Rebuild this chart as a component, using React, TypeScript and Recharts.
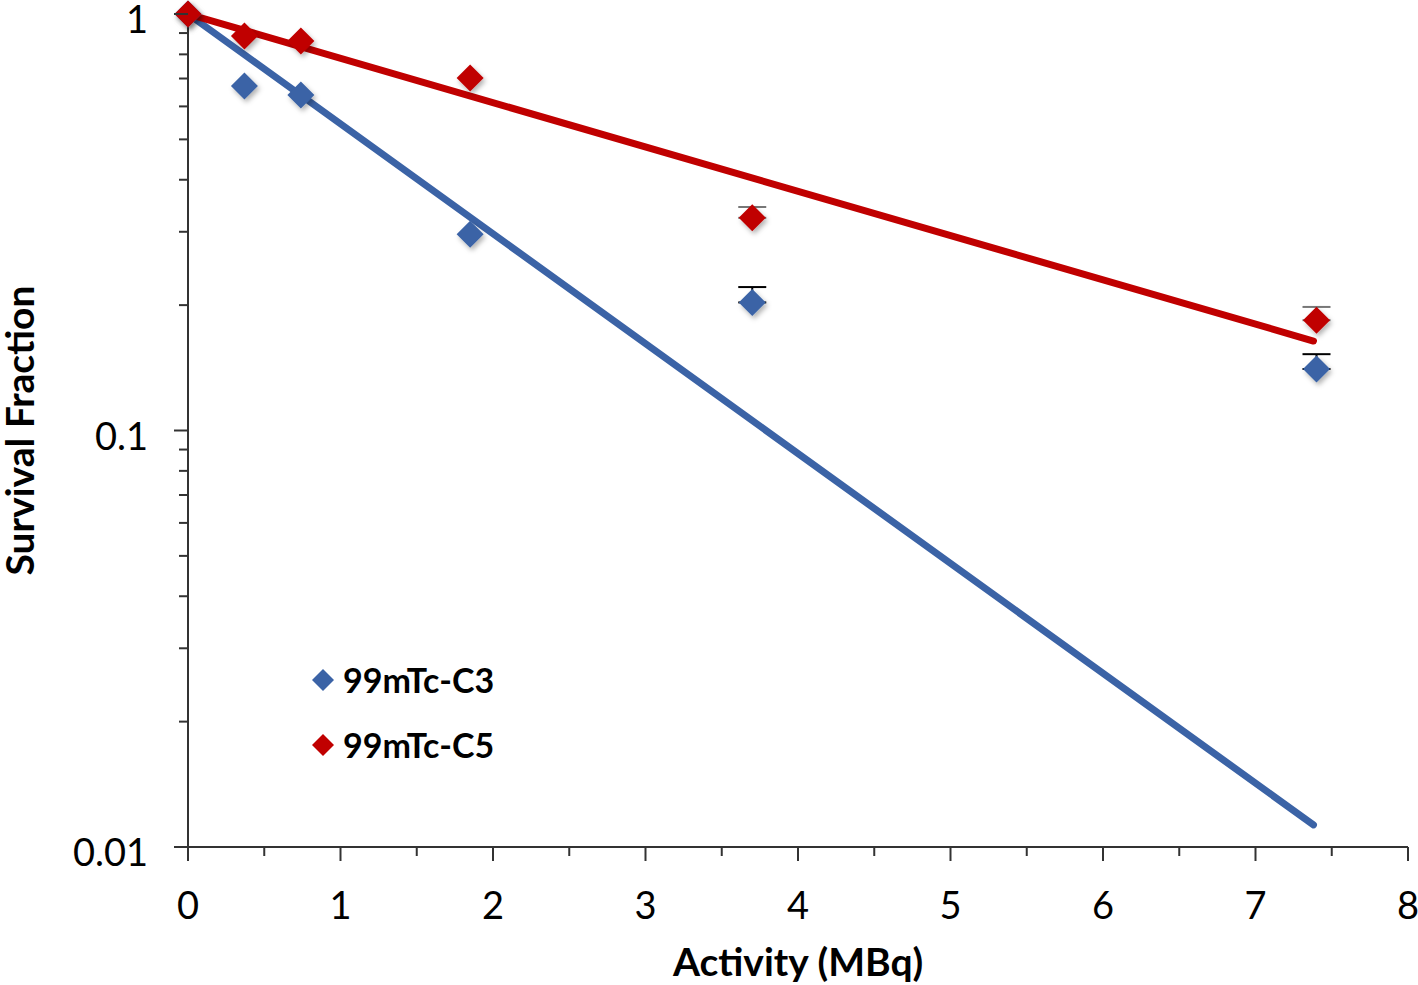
import React from 'react';
import { ScatterChart, Scatter, XAxis, YAxis, ErrorBar, Legend, Label } from 'recharts';

// Activity (MBq) of each measurement
const activity = [0, 0.37, 0.74, 1.85, 3.7, 7.4];
// survival fraction + upper error (null = no bar)
const c3Survival = [1.0, 0.672, 0.639, 0.296, 0.203, 0.1405];
const c3ErrorUp = [null, null, null, null, 0.018, 0.012];
const c5Survival = [1.0, 0.885, 0.861, 0.702, 0.324, 0.184];
const c5ErrorUp = [null, null, null, null, 0.02, 0.014];

// exponential trendlines (straight on log axis), end points
const fitActivity = [0, 7.38];
const c3Fit = [1.0, 0.0113];
const c5Fit = [1.0, 0.164];

const xTicks = [0, 0.5, 1, 1.5, 2, 2.5, 3, 3.5, 4, 4.5, 5, 5.5, 6, 6.5, 7, 7.5, 8];
const yTicks = [
  0.01, 0.02, 0.03, 0.04, 0.05, 0.06, 0.07, 0.08, 0.09,
  0.1, 0.2, 0.3, 0.4, 0.5, 0.6, 0.7, 0.8, 0.9, 1,
];
const yMajor = [0.01, 0.1, 1];

const BLUE = '#3B63A6';
const RED = '#C00000';
const AXIS = '#333333';
const FONT = 'Lato, "Open Sans", sans-serif';

const pts = (ys: number[], errs: (number | null)[]) =>
  activity.map((x, i) => ({ x, y: ys[i], err: errs[i] == null ? undefined : [0, errs[i]] }));
const fit = (ys: number[]) => fitActivity.map((x, i) => ({ x, y: ys[i] }));

const c3Data = pts(c3Survival, c3ErrorUp);
const c5Data = pts(c5Survival, c5ErrorUp);

const Diamond = (props: any) => {
  const { cx, cy, fill } = props;
  const r = 13.5;
  return (
    <polygon
      points={`${cx},${cy - r} ${cx + r},${cy} ${cx},${cy + r} ${cx - r},${cy}`}
      fill={fill}
      filter="url(#mkShadow)"
    />
  );
};

const XTick = (props: any) => {
  const { x, y, payload } = props;
  const major = Number.isInteger(payload.value);
  return (
    <g>
      <line x1={x} x2={x} y1={y} y2={y + (major ? 14 : 9)} stroke={AXIS} strokeWidth={2} />
      {major && (
        <text x={x} y={y + 57} textAnchor="middle" dominantBaseline="central"
          fontFamily={FONT} fontSize={38} fill="#000">
          {payload.value}
        </text>
      )}
    </g>
  );
};

const YTick = (props: any) => {
  const { x, y, payload } = props;
  const major = yMajor.includes(payload.value);
  return (
    <g>
      <line x1={x - (major ? 14 : 9)} x2={x} y1={y} y2={y} stroke={AXIS} strokeWidth={2} />
      {major && (
        <text x={x - 40} y={y + 4} textAnchor="end" dominantBaseline="central"
          fontFamily={FONT} fontSize={38} fill="#000">
          {String(payload.value)}
        </text>
      )}
    </g>
  );
};

const renderLegend = (props: any) => {
  const items = (props.payload || []).filter((p: any) => p.type !== 'none');
  return (
    <div>
      {items.map((p: any) => (
        <div key={p.value} style={{ display: 'flex', alignItems: 'center', height: 65 }}>
          <svg width={26} height={26} style={{ marginRight: 7 }}>
            <polygon points="13,2 24,13 13,24 2,13" fill={p.color} />
          </svg>
          <span style={{ fontFamily: FONT, fontWeight: 'bold', fontSize: 34, color: '#000' }}>
            {p.value}
          </span>
        </div>
      ))}
    </div>
  );
};

export default function App() {
  return (
    <div style={{ position: 'absolute', left: 0, top: 0, width: 1418, height: 985, background: '#fff' }}>
      <svg width={0} height={0} style={{ position: 'absolute' }}>
        <defs>
          <filter id="mkShadow" x="-50%" y="-50%" width="200%" height="200%">
            <feDropShadow dx={2} dy={3} stdDeviation={2.5} floodColor="#000" floodOpacity={0.3} />
          </filter>
        </defs>
      </svg>
      <ScatterChart width={1418} height={985} margin={{ top: 14, right: 10, bottom: 0, left: 0 }}>
        <XAxis
          type="number"
          dataKey="x"
          domain={[0, 8]}
          ticks={xTicks}
          interval={0}
          height={138}
          tickSize={0}
          tickMargin={0}
          tickLine={false}
          axisLine={{ stroke: AXIS, strokeWidth: 2 }}
          tick={<XTick />}
        >
          <Label
            content={(p: any) => {
              const vb = p.viewBox;
              return (
                <text x={vb.x + vb.width / 2} y={vb.y + 114} textAnchor="middle" dominantBaseline="central"
                  fontFamily={FONT} fontWeight="bold" fontSize={39} fill="#000">
                  Activity (MBq)
                </text>
              );
            }}
          />
        </XAxis>
        <YAxis
          type="number"
          dataKey="y"
          scale="log"
          domain={[0.01, 1]}
          ticks={yTicks}
          interval={0}
          width={188}
          tickSize={0}
          tickMargin={0}
          tickLine={false}
          axisLine={{ stroke: AXIS, strokeWidth: 2 }}
          tick={<YTick />}
        >
          <Label
            content={(p: any) => {
              const vb = p.viewBox;
              const cx = vb.x + 19;
              const cy = vb.y + vb.height / 2;
              return (
                <text x={cx} y={cy} textAnchor="middle" dominantBaseline="central"
                  transform={`rotate(-90 ${cx} ${cy})`}
                  fontFamily={FONT} fontWeight="bold" fontSize={39} fill="#000">
                  Survival Fraction
                </text>
              );
            }}
          />
        </YAxis>
        <Legend
          layout="vertical"
          align="center"
          verticalAlign="middle"
          content={renderLegend}
          wrapperStyle={{ position: 'absolute', left: 310, top: 647, width: 260 }}
        />
        <Scatter
          name="C3 fit"
          data={fit(c3Fit)}
          legendType="none"
          line={{ stroke: BLUE, strokeWidth: 7, strokeLinecap: 'round' }}
          lineType="joint"
          shape={() => <g />}
          isAnimationActive={false}
        />
        <Scatter
          name="C5 fit"
          data={fit(c5Fit)}
          legendType="none"
          line={{ stroke: RED, strokeWidth: 7, strokeLinecap: 'round' }}
          lineType="joint"
          shape={() => <g />}
          isAnimationActive={false}
        />
        <Scatter name="99mTc-C3" data={c3Data} fill={BLUE} shape={<Diamond />} isAnimationActive={false}>
          <ErrorBar dataKey="err" direction="y" width={14} stroke="#000" strokeWidth={2} />
        </Scatter>
        <Scatter name="99mTc-C5" data={c5Data} fill={RED} shape={<Diamond />} isAnimationActive={false}>
          <ErrorBar dataKey="err" direction="y" width={14} stroke="#777" strokeWidth={2} />
        </Scatter>
      </ScatterChart>
    </div>
  );
}
